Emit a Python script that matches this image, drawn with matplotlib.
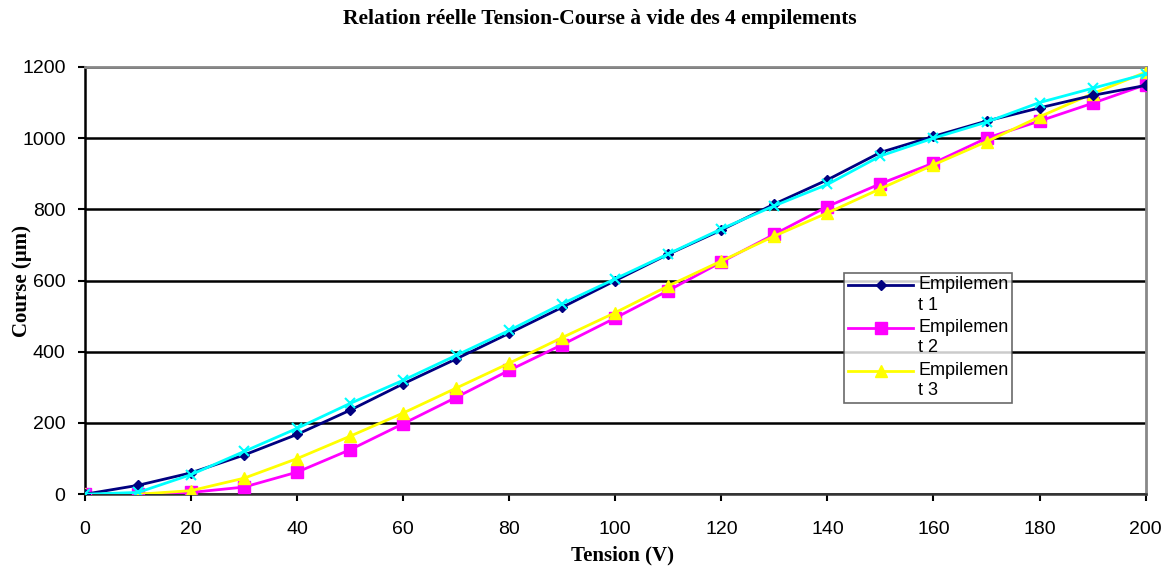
import matplotlib
matplotlib.use("Agg")
import numpy as np
import matplotlib.pyplot as plt
from matplotlib.legend_handler import HandlerLine2D

# données
tension = [0, 10, 20, 30, 40, 50, 60, 70, 80, 90, 100,
           110, 120, 130, 140, 150, 160, 170, 180, 190, 200]
emp1 = [0, 25, 60, 110, 168, 236, 310, 380, 452, 525, 600,
        674, 742, 815, 883, 960, 1005, 1048, 1085, 1120, 1148]
emp2 = [0, 0, 5, 20, 62, 125, 198, 272, 348, 420, 495,
        572, 652, 730, 808, 872, 930, 1000, 1048, 1098, 1150]
emp3 = [0, 0, 10, 45, 100, 163, 228, 298, 368, 440, 510,
        585, 655, 725, 790, 858, 925, 990, 1060, 1125, 1185]
emp4 = [0, 5, 55, 120, 185, 255, 320, 390, 460, 535, 605,
        675, 745, 810, 870, 950, 1000, 1045, 1100, 1140, 1180]
labels = ["Empilemen\nt 1", "Empilemen\nt 2", "Empilemen\nt 3", "Empilemen\nt 4"]


class HandlerHaut(HandlerLine2D):
    # place le symbole au niveau de la première ligne du texte
    def create_artists(self, legend, orig_handle, xdescent, ydescent,
                       width, height, fontsize, trans):
        arts = super().create_artists(legend, orig_handle, xdescent, ydescent,
                                      width, height, fontsize, trans)
        for a in arts:
            a.set_ydata(np.asarray(a.get_ydata(), dtype=float) + fontsize * 0.55)
        return arts


plt.rcParams['font.family'] = ['Liberation Sans', 'DejaVu Sans']

fig = plt.figure(figsize=(11.69, 5.72), dpi=100)
ax = fig.add_axes([0.0727, 0.136, 0.9073, 0.747])

ax.plot(tension, emp1, color='#000080', marker='D', markersize=5, lw=2, label=labels[0], zorder=4)
ax.plot(tension, emp2, color='#ff00ff', marker='s', markersize=8, lw=2, label=labels[1], zorder=3)
ax.plot(tension, emp3, color='#ffff00', marker='^', markersize=9, lw=2, label=labels[2], zorder=3)
ax.plot(tension, emp4, color='#00ffff', marker='x', markersize=7, mew=1.5, lw=2, label=labels[3], zorder=4)

ax.set_xlim(0, 200)
ax.set_ylim(0, 1200)
ax.set_xticks(range(0, 201, 20))
ax.set_yticks(range(0, 1201, 200))
ax.yaxis.grid(True, color='black', lw=1.8)
ax.set_axisbelow(True)

for s in ['top', 'right']:
    ax.spines[s].set_color('#888888')
    ax.spines[s].set_linewidth(2)
ax.spines['left'].set_linewidth(1.8)
ax.spines['bottom'].set_linewidth(1.8)
ax.spines['bottom'].set_color('#333333')
ax.tick_params(axis='both', labelsize=14, length=5, width=1.5)
ax.tick_params(axis='x', pad=14)
ax.tick_params(axis='y', pad=9)

serif = ['Liberation Serif', 'DejaVu Serif']
ax.set_xlabel("Tension (V)", fontsize=15, fontweight='bold', family=serif, labelpad=6)
ax.xaxis.label.set_x(0.507)
ax.set_ylabel("Course (µm)", fontsize=15, fontweight='bold', family=serif, labelpad=-7)
fig.text(0.513, 0.985, "Relation réelle Tension-Course à vide des 4 empilements",
         ha='center', va='top', fontsize=15.5, fontweight='bold', family=serif)

# légende (seuls 3 éléments visibles dans l'original)
handles, lbls = ax.get_legend_handles_labels()
leg = ax.legend(handles[:3], lbls[:3], loc='upper left',
                bbox_to_anchor=(0.716, 0.518), fontsize=13, frameon=True,
                fancybox=False, edgecolor='#444444', handlelength=3.6,
                handletextpad=0.3, borderpad=0.2, labelspacing=0.3,
                borderaxespad=0,
                handler_map={h: HandlerHaut() for h in handles[:3]})
for t in leg.get_texts():
    t.set_linespacing(1.25)
leg.get_frame().set_linewidth(1.2)
leg.set_zorder(10)

plt.savefig("out.png", dpi=100)
plt.close()
